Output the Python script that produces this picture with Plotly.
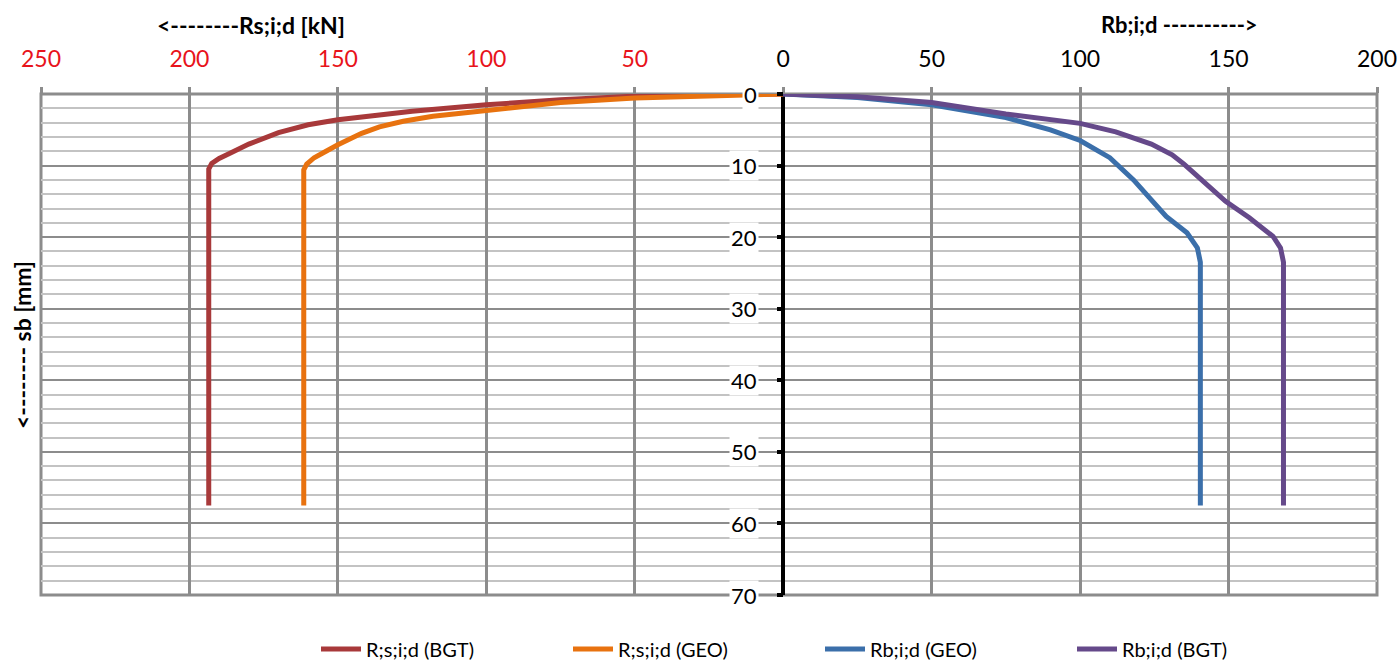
import plotly.graph_objects as go

# Skin friction resistance Rs;i;d [kN] versus pile head settlement sb [mm]
s_rs_bgt = [0, 0.05, 0.3, 0.8, 1.5, 2.4, 3.6, 4.3, 5.4, 7.0, 8.2, 9.0, 9.7, 10.5, 11.5, 57.5]
rs_bgt = [0, 20, 50, 75, 100, 125, 150, 160, 170, 180, 186, 190, 192.5, 193.5, 193.5, 193.5]

s_rs_geo = [0, 0.2, 0.55, 1.2, 2.3, 3.1, 3.8, 4.6, 5.5, 6.4, 7.1, 8.0, 8.9, 9.8, 10.6, 57.5]
rs_geo = [0, 25, 50, 75, 100, 118, 128, 136, 142, 147, 150, 154, 158, 160.5, 161.5, 161.5]

# Base resistance Rb;i;d [kN] versus settlement sb [mm]
s_rb_geo = [0, 0.5, 1.5, 3.3, 5.0, 6.5, 8.9, 12.0, 14.8, 17.1, 19.4, 21.5, 23.5, 57.5]
rb_geo = [0, 25, 50, 75, 90, 100, 110, 118, 124, 129, 136, 139.5, 140.5, 140.5]

s_rb_bgt = [0, 0.4, 1.2, 2.8, 4.1, 5.3, 7.0, 8.5, 9.8, 12.4, 15.0, 17.3, 19.9, 21.5, 23.5, 57.5]
rb_bgt = [0, 25, 50, 75, 100, 112, 124, 131, 135, 142, 149, 157, 165, 167.5, 168.5, 168.5]

# Force axis ticks: skin friction plotted to the left (negative), base to the right
x_ticks = [-250, -200, -150, -100, -50, 0, 50, 100, 150, 200]
y_ticks = [0, 10, 20, 30, 40, 50, 60, 70]

FONT = "Lato, 'Open Sans', sans-serif"
RED_TXT = "#e8131b"
GRID = "#8c8c8c"
MINOR = "#c3c3c3"

fig = go.Figure()
fig.add_trace(go.Scatter(x=[-v for v in rs_bgt], y=s_rs_bgt, mode="lines",
                         name="R;s;i;d (BGT)", line=dict(color="#a8393a", width=5)))
fig.add_trace(go.Scatter(x=[-v for v in rs_geo], y=s_rs_geo, mode="lines",
                         name="R;s;i;d (GEO)", line=dict(color="#e8720f", width=5)))
fig.add_trace(go.Scatter(x=rb_geo, y=s_rb_geo, mode="lines",
                         name="Rb;i;d (GEO)", line=dict(color="#3b6faa", width=5)))
fig.add_trace(go.Scatter(x=rb_bgt, y=s_rb_bgt, mode="lines",
                         name="Rb;i;d (BGT)", line=dict(color="#65498a", width=5)))

tick_text = []
for v in x_ticks:
    if v < 0:
        tick_text.append(f'<span style="color:{RED_TXT}">{abs(v)}</span>')
    else:
        tick_text.append(str(v))

annotations = []
# settlement labels sit beside the central axis on a white patch
for v in y_ticks:
    annotations.append(dict(x=0, y=v, xref="x", yref="y", text=str(v),
                            showarrow=False, xanchor="right", yanchor="middle",
                            xshift=-24, bgcolor="white", borderpad=1,
                            font=dict(size=22, color="black", family=FONT)))

PLOT_L, PLOT_R, PLOT_T, PLOT_B = 41, 1377, 94, 595


def px_x(p):
    return (p - PLOT_L) / (PLOT_R - PLOT_L)


def px_y(p):
    return (PLOT_B - p) / (PLOT_B - PLOT_T)


annotations += [
    dict(x=px_x(251), y=px_y(25), xref="paper", yref="paper",
         text="<b><--------Rs;i;d [kN]</b>", showarrow=False,
         xanchor="center", yanchor="middle",
         font=dict(size=23, color="black", family=FONT)),
    dict(x=px_x(1179), y=px_y(25), xref="paper", yref="paper",
         text="<b>Rb;i;d ----------></b>", showarrow=False,
         xanchor="center", yanchor="middle",
         font=dict(size=22, color="black", family=FONT)),
    dict(x=px_x(22), y=px_y(345), xref="paper", yref="paper",
         text="<b><-------- sb [mm]</b>", showarrow=False, textangle=-90,
         xanchor="center", yanchor="middle",
         font=dict(size=23, color="black", family=FONT)),
]

fig.update_layout(
    width=1397, height=660,
    margin=dict(l=PLOT_L, r=1397 - PLOT_R, t=PLOT_T, b=660 - PLOT_B, autoexpand=False),
    paper_bgcolor="white", plot_bgcolor="white",
    font=dict(family=FONT, color="black"),
    showlegend=True,
    legend=dict(orientation="h", x=px_x(316), y=px_y(649),
                xanchor="left", yanchor="middle",
                entrywidth=197, entrywidthmode="pixels", itemwidth=40,
                font=dict(size=20, family=FONT), bgcolor="rgba(0,0,0,0)"),
    annotations=annotations,
    shapes=[dict(type="rect", xref="paper", yref="paper", x0=0, x1=1, y0=0, y1=1,
                 line=dict(color=GRID, width=3), layer="below")],
)

fig.update_xaxes(
    range=[-250, 200], side="top", tickmode="array",
    tickvals=x_ticks, ticktext=tick_text,
    tickfont=dict(size=23, family=FONT, color="black"),
    ticklabeloverflow="allow",
    ticks="outside", ticklen=6, tickwidth=3, tickcolor=GRID,
    ticklabelstandoff=11,
    showgrid=True, gridcolor=GRID, gridwidth=3,
    zeroline=True, zerolinecolor="black", zerolinewidth=4,
    showline=False, fixedrange=True,
)

fig.update_yaxes(
    range=[70, 0], anchor="free", position=5 / 9,
    tickmode="linear", tick0=0, dtick=10,
    ticks="outside", ticklen=6, tickwidth=4, tickcolor="black",
    showticklabels=False,
    showgrid=True, gridcolor=GRID, gridwidth=2,
    minor=dict(dtick=2, tick0=0, showgrid=True, gridcolor=MINOR, gridwidth=2, ticks=""),
    zeroline=False, showline=False, fixedrange=True,
)

fig.write_html("out.html")
